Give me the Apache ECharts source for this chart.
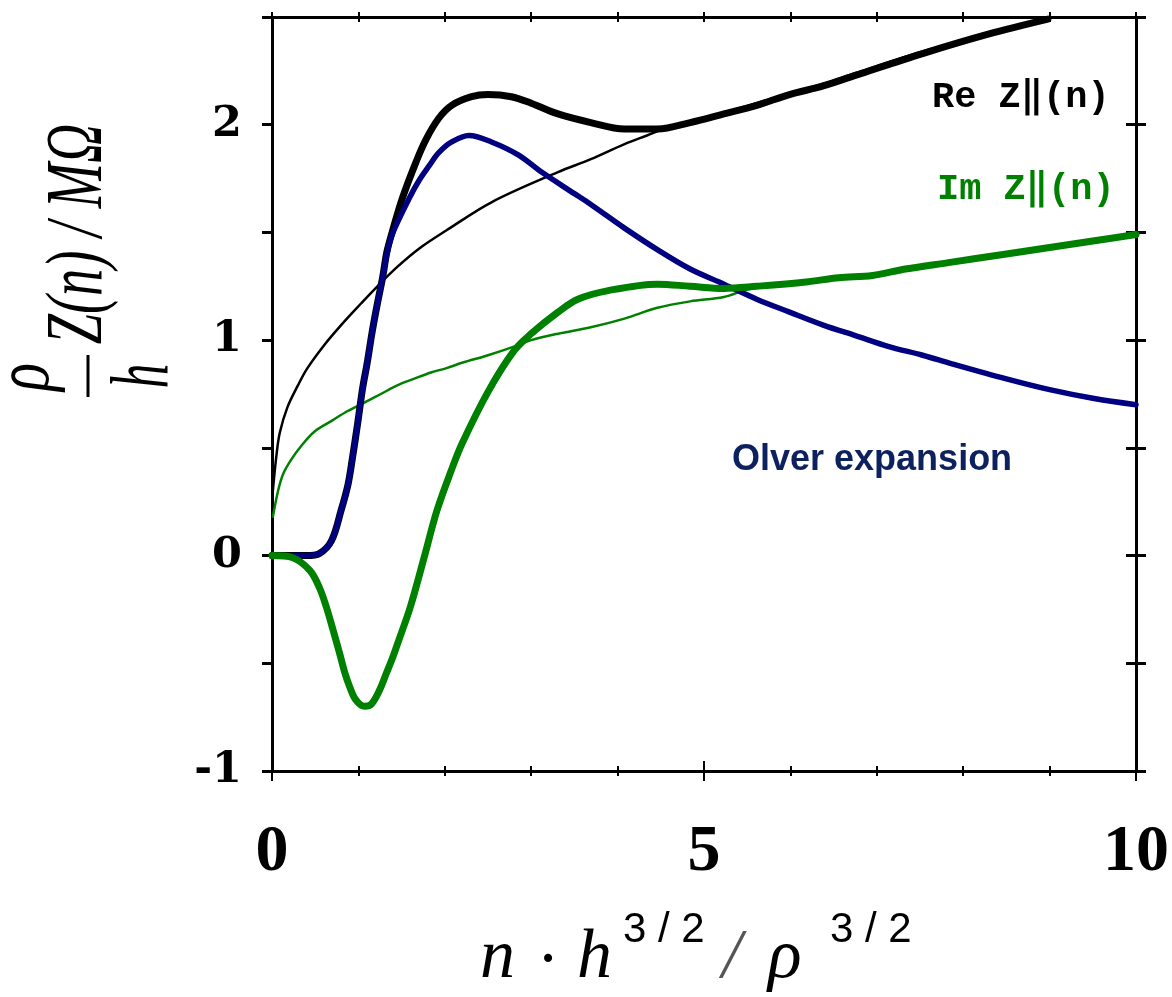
<!DOCTYPE html>
<html>
<head>
<meta charset="utf-8">
<script src="https://cdn.jsdelivr.net/npm/echarts@6/dist/echarts.min.js"></script>
<style>
  html, body { margin: 0; padding: 0; background: #fff; }
  #chart { width: 1172px; height: 997px; }
</style>
</head>
<body>
<div id="chart"></div>
<script>
// --- data ---
// exact Re Z (thick black)
const reExactX = [0, 0.2, 0.4, 0.55, 0.69, 0.8, 0.88, 0.93, 0.99, 1.05, 1.1, 1.16, 1.22, 1.28, 1.33, 1.39, 1.51, 1.67, 1.78, 1.93, 2.08, 2.31, 2.5, 2.77, 3.0, 3.31, 3.69, 4.08, 4.46, 4.84, 5.23, 5.61, 5.99, 6.38, 6.76, 7.53, 8.29, 8.98];
const reExactY = [0, 0, 0, 0.01, 0.07, 0.21, 0.33, 0.45, 0.61, 0.78, 0.89, 1.04, 1.17, 1.29, 1.41, 1.5, 1.66, 1.83, 1.93, 2.03, 2.09, 2.13, 2.14, 2.13, 2.1, 2.05, 2.01, 1.98, 1.98, 2.01, 2.05, 2.09, 2.14, 2.18, 2.23, 2.33, 2.42, 2.49];
// Olver expansion of Re Z (thick blue)
const olverX = [0.23, 0.4, 0.55, 0.69, 0.8, 0.88, 0.93, 0.99, 1.05, 1.1, 1.16, 1.22, 1.28, 1.33, 1.39, 1.59, 1.7, 1.82, 1.93, 2.08, 2.28, 2.54, 2.85, 3.12, 3.5, 3.69, 4.08, 4.46, 4.84, 5.23, 5.61, 5.99, 6.38, 6.76, 7.14, 7.53, 7.87, 8.5, 9.0, 9.5, 10];
const olverY = [0, 0, 0.01, 0.07, 0.21, 0.33, 0.45, 0.61, 0.78, 0.89, 1.04, 1.17, 1.29, 1.4, 1.49, 1.66, 1.74, 1.81, 1.87, 1.92, 1.95, 1.92, 1.86, 1.78, 1.68, 1.63, 1.52, 1.42, 1.33, 1.26, 1.19, 1.13, 1.07, 1.02, 0.97, 0.93, 0.89, 0.82, 0.77, 0.73, 0.70];
// exact Im Z (thick green)
const imExactX = [0, 0.24, 0.44, 0.55, 0.63, 0.71, 0.78, 0.84, 0.9, 0.97, 1.07, 1.15, 1.25, 1.32, 1.4, 1.47, 1.6, 1.76, 1.91, 2.07, 2.2, 2.5, 2.8, 3.0, 3.31, 3.54, 3.89, 4.46, 4.84, 5.23, 5.61, 6.18, 6.56, 6.95, 7.33, 7.83, 8.5, 9.0, 9.5, 10];
const imExactY = [0, -0.01, -0.07, -0.15, -0.24, -0.35, -0.45, -0.54, -0.61, -0.67, -0.7, -0.69, -0.62, -0.55, -0.47, -0.39, -0.24, -0.01, 0.21, 0.39, 0.52, 0.76, 0.95, 1.03, 1.13, 1.19, 1.23, 1.26, 1.25, 1.24, 1.25, 1.27, 1.29, 1.3, 1.33, 1.36, 1.4, 1.43, 1.46, 1.49];
// high-frequency approximation of Re Z (thin black)
const reThinX = [0.01, 0.05, 0.09, 0.18, 0.3, 0.41, 0.61, 0.8, 1.03, 1.22, 1.45, 1.72, 2.02, 2.54, 3.31, 3.69, 4.08, 4.34, 4.6, 5.0, 5.61, 6.38, 6.76, 7.53, 8.29, 8.98];
const reThinY = [0.3, 0.46, 0.57, 0.69, 0.79, 0.87, 0.98, 1.07, 1.17, 1.25, 1.34, 1.43, 1.51, 1.64, 1.78, 1.84, 1.91, 1.95, 1.99, 2.03, 2.1, 2.19, 2.24, 2.34, 2.42, 2.49];
// high-frequency approximation of Im Z (thin green)
const imThinX = [0.01, 0.07, 0.13, 0.23, 0.34, 0.49, 0.69, 0.87, 1.07, 1.26, 1.45, 1.64, 1.84, 2.02, 2.2, 2.5, 2.8, 3.0, 3.31, 3.69, 4.08, 4.46, 4.84, 5.23, 5.5, 5.8, 6.18, 6.95, 7.83, 9.0, 10];
const imThinY = [0.18, 0.3, 0.38, 0.45, 0.51, 0.575, 0.625, 0.67, 0.71, 0.75, 0.79, 0.82, 0.85, 0.87, 0.895, 0.93, 0.97, 1.0, 1.03, 1.06, 1.1, 1.15, 1.18, 1.2, 1.235, 1.255, 1.27, 1.3, 1.36, 1.43, 1.49];

const xTicks = [0, 5, 10];
const yTicks = [-1, 0, 1, 2];

function pairs(xs, ys) {
    return xs.map((x, i) => [x, ys[i]]);
}

const chart = echarts.init(document.getElementById('chart'));

const hide = { show: false };

function xAxis(position, inside, showLine, interval, label) {
    return {
        type: 'value', position: position, min: 0, max: 10, interval: interval,
        axisLine: { show: showLine, onZero: false, lineStyle: { color: '#000', width: 3 } },
        axisTick: { show: true, inside: inside, length: position === 'top' ? 5 : 10, lineStyle: { color: '#000', width: 2 } },
        minorTick: position === 'bottom'
            ? { show: true, splitNumber: 5, length: 5, lineStyle: { color: '#000', width: 2 } }
            : { show: false },
        axisLabel: label || hide,
        splitLine: hide
    };
}

function yAxis(position, inside, showLine, label) {
    return {
        type: 'value', position: position, min: -1, max: 2.5, interval: 0.5,
        axisLine: { show: showLine, onZero: false, lineStyle: { color: '#000', width: 3 } },
        axisTick: { show: true, inside: inside, length: 10, lineStyle: { color: '#000', width: 3 } },
        axisLabel: label || hide,
        splitLine: hide
    };
}

function line(xs, ys, color, width, z) {
    return {
        type: 'line', data: pairs(xs, ys), showSymbol: false, smooth: 0.35, z: z,
        lineStyle: { color: color, width: width, cap: 'round', join: 'round' },
        animation: false
    };
}

const option = {
    animation: false,
    grid: { left: 272, right: 30, top: 17, bottom: 226 },
    xAxis: [
        xAxis('bottom', false, true, 5, {
            show: true, margin: 49, color: '#000', fontFamily: 'Liberation Serif', fontWeight: 'bold', fontSize: 66,
            formatter: v => xTicks.includes(v) ? String(v) : ''
        }),
        xAxis('bottom', true, false, 5),
        xAxis('top', false, true, 1),
        xAxis('top', true, false, 1)
    ],
    yAxis: [
        yAxis('left', false, true, {
            show: true, margin: 30, color: '#000', fontFamily: 'DejaVu Serif', fontWeight: 'bold', fontSize: 43,
            formatter: v => yTicks.includes(v) ? String(v) : ''
        }),
        yAxis('right', true, true),
        yAxis('right', false, false)
    ],
    series: [
        line(reThinX, reThinY, '#000', 2.5, 2),
        line(imThinX, imThinY, '#008000', 2.5, 2),
        line(reExactX, reExactY, '#000', 7, 3),
        line(olverX, olverY, '#000080', 5.5, 4),
        line(imExactX, imExactY, '#008000', 7, 5)
    ],
    graphic: [
        // curve labels
        { type: 'text', x: 932, y: 98, style: { text: 'Re Z\u2016(n)', fill: '#000', font: 'bold 37px "Liberation Mono", "DejaVu Sans Mono", monospace', verticalAlign: 'middle' } },
        { type: 'text', x: 937, y: 190, style: { text: 'Im Z\u2016(n)', fill: '#008000', font: 'bold 37px "Liberation Mono", "DejaVu Sans Mono", monospace', verticalAlign: 'middle' } },
        { type: 'text', x: 732, y: 460, style: { text: 'Olver expansion', fill: '#0d215e', font: 'bold 36px "Liberation Sans", Arial, sans-serif', verticalAlign: 'middle' } },
        // x axis title
        { type: 'text', x: 480, y: 959, style: { text: 'n', fill: '#000', font: 'italic 70px "Liberation Serif", serif', verticalAlign: 'middle' } },
        { type: 'text', x: 548, y: 962, style: { text: '\u00b7', fill: '#000', font: 'bold 50px "Liberation Serif", serif', align: 'center', verticalAlign: 'middle' } },
        { type: 'text', x: 577, y: 959, style: { text: 'h', fill: '#000', font: 'italic 70px "Liberation Serif", serif', verticalAlign: 'middle' } },
        { type: 'text', x: 623, y: 930, style: { text: '3 / 2', fill: '#000', font: '42px "Liberation Sans", sans-serif', verticalAlign: 'middle' } },
        { type: 'text', x: 722, y: 959, style: { text: '/', fill: '#555', font: 'italic 70px "Liberation Serif", serif', verticalAlign: 'middle' } },
        { type: 'text', x: 768, y: 959, style: { text: '\u03c1', fill: '#000', font: 'italic 70px "Liberation Serif", serif', verticalAlign: 'middle' } },
        { type: 'text', x: 830, y: 930, style: { text: '3 / 2', fill: '#000', font: '42px "Liberation Sans", sans-serif', verticalAlign: 'middle' } },
        // y axis title (rotated)
        { type: 'text', x: 80, y: 234, rotation: Math.PI / 2, scaleX: 0.68, style: { text: 'Z(n) / M\u03a9', fill: '#000', font: 'italic 80px "Liberation Serif", serif', align: 'center', verticalAlign: 'middle' } },
        { type: 'text', x: 27, y: 377, rotation: Math.PI / 2, scaleX: 0.75, style: { text: '\u03c1', fill: '#000', font: 'italic 78px "Liberation Serif", serif', align: 'center', verticalAlign: 'middle' } },
        { type: 'line', shape: { x1: 88, y1: 355, x2: 88, y2: 397 }, style: { stroke: '#000', lineWidth: 3 } },
        { type: 'text', x: 145, y: 376, rotation: Math.PI / 2, scaleX: 0.6, style: { text: 'h', fill: '#000', font: 'italic 82px "Liberation Serif", serif', align: 'center', verticalAlign: 'middle' } }
    ]
};

chart.setOption(option);
</script>
</body>
</html>
